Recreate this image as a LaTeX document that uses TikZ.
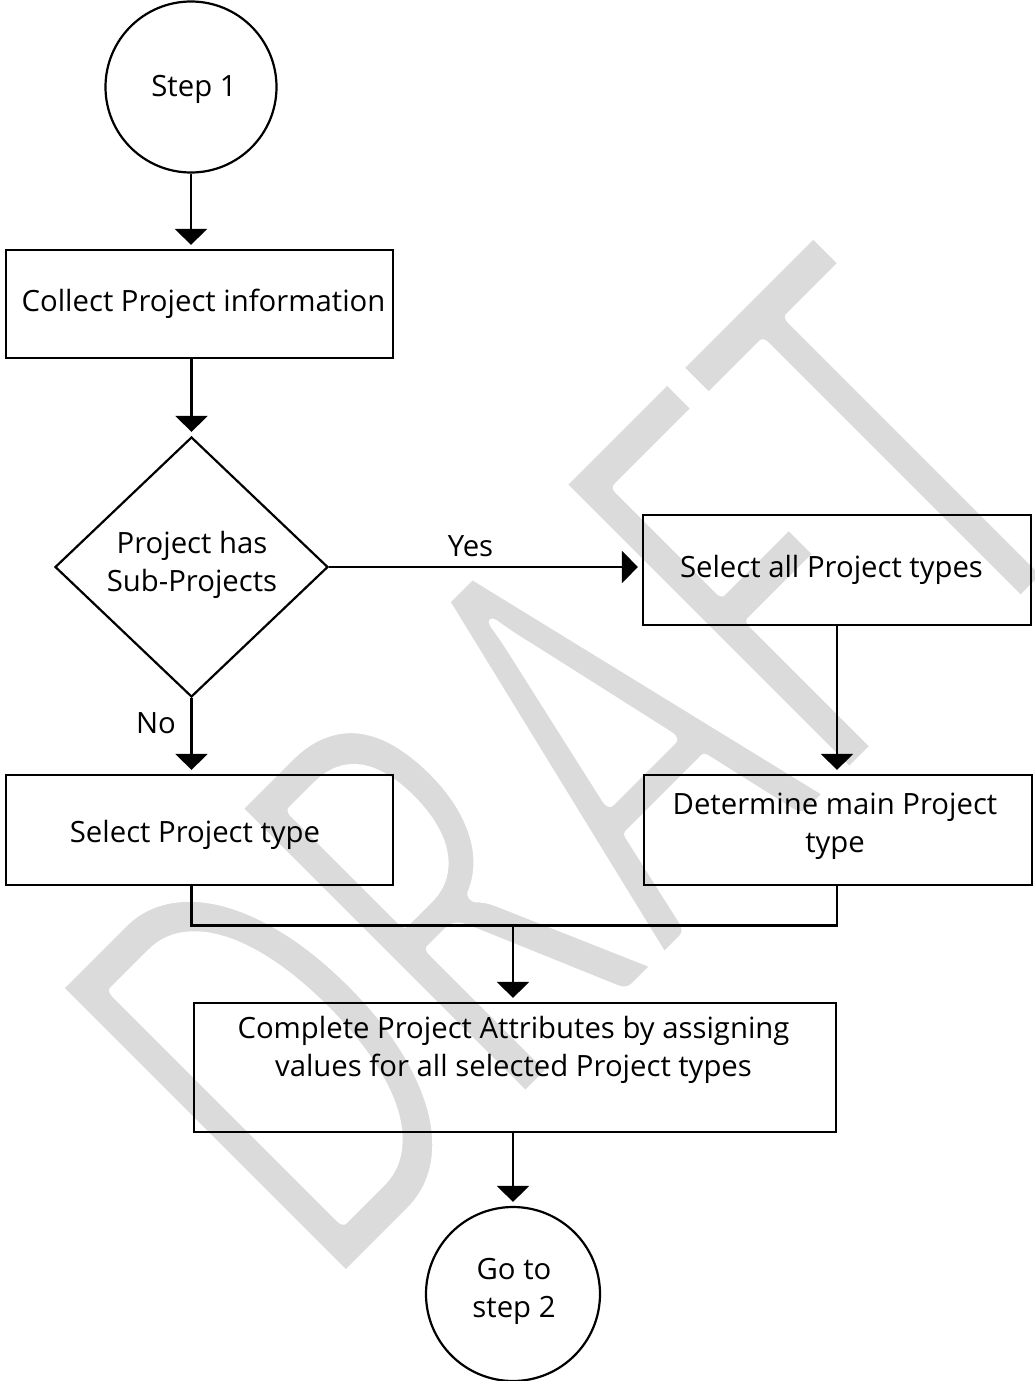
\documentclass[tikz,border=0pt]{standalone}
\usepackage{fontspec}
\setmainfont{Open Sans}
\newfontfamily\wmfont{Carlito}
\usetikzlibrary{shapes.geometric,arrows.meta}
\definecolor{wmgray}{RGB}{219,219,219}
\begin{document}
\begin{tikzpicture}[x=1pt,y=-1pt,
  box/.style={draw, line width=2.2pt, rectangle, inner sep=0pt},
  term/.style={draw, circle, line width=2.2pt, inner sep=0pt},
  txt/.style={font=\fontsize{29.3}{38.5}\selectfont, align=center, inner sep=0pt},
  arr/.style={line width=2.2pt, -{Triangle[length=16pt,width=32pt]}, shorten >=4pt},
  conn/.style={line width=2.2pt}]
\useasboundingbox (0,0) rectangle (1035,1381);
% watermark (thinned with a white outline stroke)
\node[rotate=45, anchor=base, text=wmgray, inner sep=0pt] (wm) at (717,908)
  {\scalebox{1}[1.565]{\wmfont\fontsize{410}{410}\selectfont
   \special{pdf:literal direct 1 1 1 RG 9 w 1 j 2 Tr}DRAFT\special{pdf:literal direct 0 Tr}}};
% nodes
\node[term, minimum size=171pt] (s1) at (191,87) {};
\node[txt, anchor=base] (s1t) at (194,96.5) {Step 1};
\node[box, minimum width=387pt, minimum height=108pt] (c1) at (199.5,304) {};
\node[txt, anchor=base] (c1t) at (203.5,311.7) {Collect Project information};
\node[draw, diamond, line width=2.2pt, inner sep=0pt, minimum width=273pt, minimum height=260pt] (d) at (191.5,567) {};
\node[txt, anchor=base] (dt) at (192,591.7) {Project has\\Sub-Projects};
\node[box, minimum width=388pt, minimum height=110pt] (sa) at (837,570) {};
\node[txt, anchor=base] (sat) at (831.5,577) {Select all Project types};
\node[box, minimum width=388pt, minimum height=110pt] (dm) at (838,830) {};
\node[txt, anchor=base] (dmt) at (835,852.5) {Determine main Project\\type};
\node[box, minimum width=387pt, minimum height=110pt] (sp) at (199.5,830) {};
\node[txt, anchor=base] (spt) at (195,842) {Select Project type};
\node[box, minimum width=642pt, minimum height=129pt] (cp) at (515,1067.5) {};
\node[txt, anchor=base] (cpt) at (513.5,1076.8) {Complete Project Attributes by assigning\\values for all selected Project types};
\node[term, minimum size=174pt] (s2) at (513,1294) {};
\node[txt, anchor=base] (s2t) at (514,1317.7) {Go to\\step 2};
\node[txt, anchor=base] (yes) at (470.5,556) {Yes};
\node[txt, anchor=base] (no) at (156,733) {No};
\coordinate (m) at (513,925.5);
% connectors
\draw[arr] (s1.south) -- (s1.south |- c1.north);
\draw[arr] (d.north |- c1.south) -- (d.north);
\draw[arr] (d.east) -- (d.east -| sa.west);
\draw[arr] (sa.south) -- (sa.south |- dm.north);
\draw[arr] (d.south) -- (d.south |- sp.north);
\draw[conn] (d.south |- sp.south) |- (m);
\draw[conn] (m) -| (sa.south |- dm.south);
\draw[arr] (m) -- (m |- cp.north);
\draw[arr] (s2.north |- cp.south) -- (s2.north);
\end{tikzpicture}
\end{document}
